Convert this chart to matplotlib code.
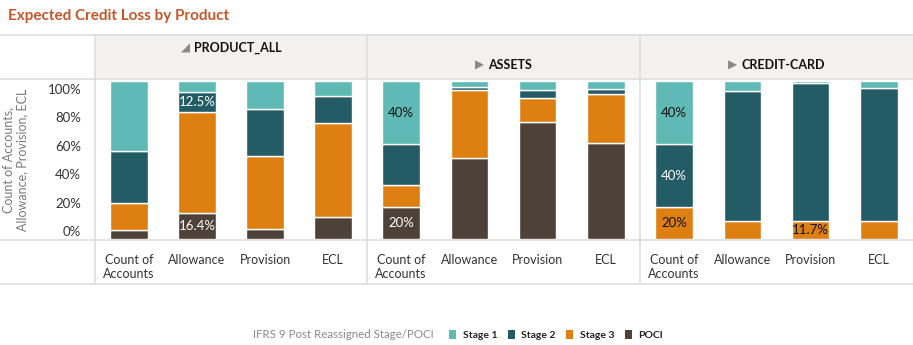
import numpy as np
import matplotlib
matplotlib.use('Agg')
import matplotlib.pyplot as plt
from matplotlib.patches import Patch, Rectangle
from matplotlib.lines import Line2D
from matplotlib.offsetbox import TextArea, HPacker, AnnotationBbox

plt.rcParams['font.family'] = ['Lato', 'DejaVu Sans']

# ---- data ----
products = ['PRODUCT_ALL', 'ASSETS', 'CREDIT-CARD']
measures = ['Count of\nAccounts', 'Allowance', 'Provision', 'ECL']
stages = ['Stage 1', 'Stage 2', 'Stage 3', 'POCI']

poci = [[0.06, 0.164, 0.065, 0.14],
        [0.20, 0.51, 0.74, 0.605],
        [0.0, 0.0, 0.0, 0.0]]
stage3 = [[0.17, 0.642, 0.46, 0.595],
          [0.14, 0.43, 0.15, 0.31],
          [0.20, 0.114, 0.117, 0.116]]
stage2 = [[0.33, 0.125, 0.30, 0.17],
          [0.26, 0.02, 0.055, 0.035],
          [0.40, 0.823, 0.873, 0.838]]
stage1 = [[0.44, 0.069, 0.175, 0.095],
          [0.40, 0.04, 0.055, 0.05],
          [0.40, 0.063, 0.01, 0.046]]

# segments that carry a value label: (product, measure, stage)
labelled = [(0, 1, 'Stage 2'), (0, 1, 'POCI'),
            (1, 0, 'Stage 1'), (1, 0, 'POCI'),
            (2, 0, 'Stage 1'), (2, 0, 'Stage 2'), (2, 0, 'Stage 3'),
            (2, 2, 'Stage 3')]

yticks = [0, 0.2, 0.4, 0.6, 0.8, 1.0]

colors = {'Stage 1': '#5fb9b4', 'Stage 2': '#245c65',
          'Stage 3': '#de7f12', 'POCI': '#4e4138'}
text_colors = {'Stage 1': '#111111', 'Stage 2': 'white',
               'Stage 3': '#111111', 'POCI': 'white'}
series = {'POCI': poci, 'Stage 3': stage3, 'Stage 2': stage2, 'Stage 1': stage1}
stack_order = ['POCI', 'Stage 3', 'Stage 2', 'Stage 1']

W, H = 913, 345
fig = plt.figure(figsize=(W / 100, H / 100), dpi=100)

def fx(px):
    return px / W

def fy(py):
    return 1 - py / H

grid_col = '#dedede'
header_bg = '#f3f2f0'

# header band
fig.patches.append(Rectangle((fx(95), fy(79)), fx(913) - fx(95), fy(35) - fy(79),
                             transform=fig.transFigure, facecolor=header_bg,
                             edgecolor='none', zorder=0))
# horizontal rules
for py in [35, 79, 240, 284]:
    fig.add_artist(Line2D([0, 1], [fy(py), fy(py)], transform=fig.transFigure,
                          color=grid_col, lw=1.2))
# vertical rules
for px in [95, 367, 640]:
    fig.add_artist(Line2D([fx(px), fx(px)], [fy(284), fy(35)], transform=fig.transFigure,
                          color=grid_col, lw=1.2))

# title
fig.text(fx(8), fy(16), 'Expected Credit Loss by Product', fontsize=11,
         fontweight='bold', color='#c4572a', va='center', ha='left')

panel_x = [(95, 367), (367, 640), (640, 913)]
header_y = [48, 65, 65]
icons = ['\u25e2', '\u25b6', '\u25b6']

x = np.arange(len(measures))
for p, name in enumerate(products):
    x0, x1 = panel_x[p]
    ax = fig.add_axes([fx(x0), fy(239), fx(x1) - fx(x0), fy(81) - fy(239)])
    ax.set_facecolor('none')
    bottom = np.zeros(len(measures))
    for st in stack_order:
        vals = np.array(series[st][p])
        ax.bar(x, vals, 0.55, bottom=bottom, color=colors[st],
               edgecolor='white', linewidth=1)
        for m in range(len(measures)):
            if (p, m, st) in labelled:
                v = vals[m]
                txt = f'{v * 100:.0f}%' if abs(v * 100 - round(v * 100)) < 0.05 else f'{v * 100:.1f}%'
                ax.text(x[m], bottom[m] + v / 2, txt, ha='center', va='center',
                        fontsize=9.5, color=text_colors[st])
        bottom += vals
    ax.set_xlim(-0.5, len(measures) - 0.5)
    ax.set_ylim(0, 1)
    for s in ax.spines.values():
        s.set_visible(False)
    ax.set_xticks(x)
    ax.set_xticklabels(measures, fontsize=9, color='#333333', linespacing=1.15)
    ax.tick_params(axis='x', length=0, pad=11)
    for lab in ax.get_xticklabels():
        lab.set_verticalalignment('top')
    if p == 0:
        ax.set_yticks([0.05 + 0.9 * t for t in yticks])
        ax.set_yticklabels([f'{int(t * 100)}%' for t in yticks], fontsize=9.5,
                           color='#333333')
        ax.tick_params(axis='y', length=0, pad=10)
    else:
        ax.set_yticks([])

    # panel header with icon
    parts = HPacker(children=[
        TextArea(icons[p], textprops=dict(color='#8a8a8a', fontsize=8.5,
                                          family=['DejaVu Sans'])),
        TextArea(name, textprops=dict(color='#111111', fontsize=9, fontweight='bold'))],
        align='center', pad=0, sep=3)
    ab = AnnotationBbox(parts, ((fx(x0) + fx(x1)) / 2, fy(header_y[p])),
                        xycoords='figure fraction', frameon=False, box_alignment=(0.5, 0.5))
    fig.add_artist(ab)

# y axis title
fig.text(fx(15), fy(160), 'Count of Accounts,\nAllowance, Provision, ECL', rotation=90,
         fontsize=9, color='#7a7a7a', ha='center', va='center', linespacing=1.2)

# legend
fig.text(fx(434), fy(335), 'IFRS 9 Post Reassigned Stage/POCI', fontsize=8.3,
         color='#8a8a8a', ha='right', va='center')
handles = [Patch(facecolor=colors[s], edgecolor='none') for s in stages]
leg = fig.legend(handles, stages, loc='center left', bbox_to_anchor=(fx(449), fy(335)),
                 ncol=4, frameon=False, handlelength=0.7, handleheight=0.9,
                 handletextpad=0.6, columnspacing=1.0, borderaxespad=0, borderpad=0,
                 prop={'size': 7.5, 'weight': 'bold'})
for t in leg.get_texts():
    t.set_color('#222222')

fig.savefig('out.png', dpi=100)
